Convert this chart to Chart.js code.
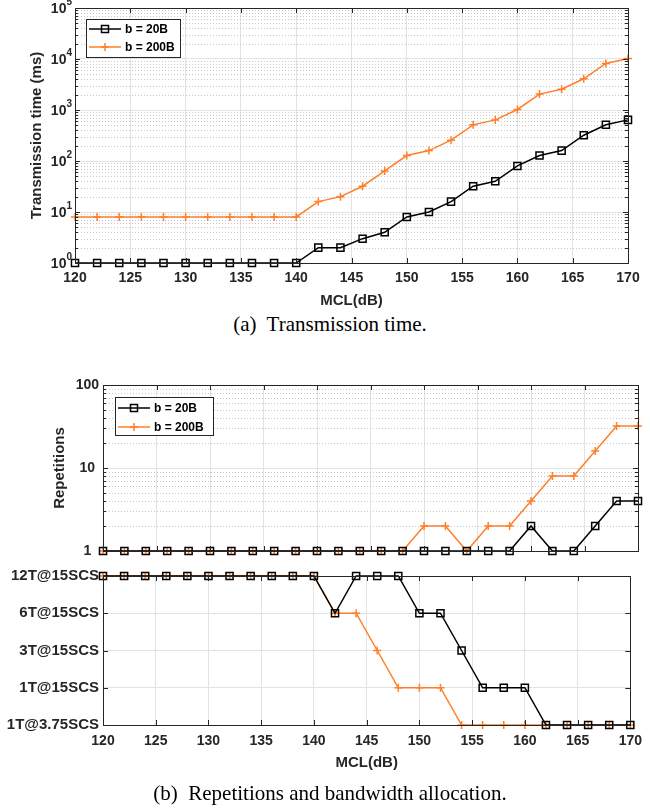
<!DOCTYPE html>
<html>
<head>
<meta charset="utf-8">
<script src="https://cdn.jsdelivr.net/npm/chart.js@4.4.0/dist/chart.umd.min.js"></script>
<style>
  body { margin: 0; background: #fff; width: 650px; height: 811px; position: relative; overflow: hidden; }
  canvas { position: absolute; left: 0; }
  .cap { position: absolute; left: 0; width: 660px; text-align: center; font-family: "Liberation Serif", serif; font-size: 21px; line-height: 24px; color: #000; white-space: pre; }
</style>
</head>
<body>
<canvas id="c1" width="650" height="310" style="top:0px"></canvas>
<div class="cap" style="top:312px">(a)  Transmission time.</div>
<canvas id="c2" width="650" height="194" style="top:370px"></canvas>
<canvas id="c3" width="650" height="215" style="top:560px"></canvas>
<div class="cap" style="top:781px">(b)  Repetitions and bandwidth allocation.</div>
<script>
// -- DATA -- //
const mcl = [120, 122, 124, 126, 128, 130, 132, 134, 136, 138, 140, 142, 144, 146, 148, 150, 152, 154, 156, 158, 160, 162, 164, 166, 168, 170]
const timeB20 = [1, 1, 1, 1, 1, 1, 1, 1, 1, 1, 1, 2, 2, 3, 4, 8, 10, 16, 32, 40, 80, 128, 160, 320, 512, 640]
const timeB200 = [8, 8, 8, 8, 8, 8, 8, 8, 8, 8, 8, 16, 20, 32, 64, 128, 160, 256, 512, 640, 1024, 2048, 2560, 4096, 8192, 10240]
const repB20 = [1, 1, 1, 1, 1, 1, 1, 1, 1, 1, 1, 1, 1, 1, 1, 1, 1, 1, 1, 1, 2, 1, 1, 2, 4, 4]
const repB200 = [1, 1, 1, 1, 1, 1, 1, 1, 1, 1, 1, 1, 1, 1, 1, 2, 2, 1, 2, 2, 4, 8, 8, 16, 32, 32]
const allocLabels = ['1T@3.75SCS', '1T@15SCS', '3T@15SCS', '6T@15SCS', '12T@15SCS']
const allocB20 = [4, 4, 4, 4, 4, 4, 4, 4, 4, 4, 4, 3, 4, 4, 4, 3, 3, 2, 1, 1, 1, 0, 0, 0, 0, 0]
const allocB200 = [4, 4, 4, 4, 4, 4, 4, 4, 4, 4, 4, 3, 3, 2, 1, 1, 1, 0, 0, 0, 0, 0, 0, 0, 0, 0]
const timeTicks = [1, 10, 100, 1000, 10000, 100000]
const repTicks = [1, 10, 100]
const seriesNames = ['b = 20B', 'b = 200B']

const BLACK = '#000000'
const ORANGE = '#ff7f2a'
const AXIS = '#262626'
const FONT = '"Liberation Sans", Arial, sans-serif'

// minor values for a log axis (2..9 per decade)
function logMinors(lo, hi) {
  const out = []
  for (let d = lo; d < hi; d *= 10) for (let k = 2; k <= 9; k++) out.push(d * k)
  return out
}

const pts = (ys) => mcl.map((x, i) => ({ x: x, y: ys[i] }))

function makeSets(a, b) {
  return [
    { label: seriesNames[0], data: pts(a), borderColor: BLACK, backgroundColor: 'rgba(0,0,0,0)', borderWidth: 1.5,
      pointStyle: 'rect', pointRadius: 5, pointBorderWidth: 1.5, pointBorderColor: BLACK, tension: 0, clip: false },
    { label: seriesNames[1], data: pts(b), borderColor: ORANGE, backgroundColor: ORANGE, borderWidth: 1.5,
      pointStyle: 'cross', pointRadius: 4, pointBorderWidth: 1.5, pointBorderColor: ORANGE, tension: 0, clip: false }
  ]
}

// matlab-like box, inward ticks, dotted minor grid, inset legend
const matlabBox = {
  id: 'matlabBox',
  beforeDatasetsDraw(chart, args, o) {
    const { ctx, chartArea: a } = chart
    const y = chart.scales.y
    if (o.minor) {
      ctx.save()
      ctx.strokeStyle = '#c8c8c8'
      ctx.lineWidth = 1
      ctx.setLineDash([1, 2])
      o.minor.forEach(v => {
        const py = Math.round(y.getPixelForValue(v)) + 0.5
        ctx.beginPath(); ctx.moveTo(a.left, py); ctx.lineTo(a.right, py); ctx.stroke()
      })
      ctx.restore()
    }
  },
  afterDatasetsDraw(chart, args, o) {
    const { ctx, chartArea: a } = chart
    const x = chart.scales.x, y = chart.scales.y
    ctx.save()
    ctx.strokeStyle = AXIS
    ctx.lineWidth = 1
    ctx.beginPath()
    x.ticks.forEach(t => {
      const px = Math.round(x.getPixelForValue(t.value)) + 0.5
      ctx.moveTo(px, a.bottom); ctx.lineTo(px, a.bottom - 5)
      ctx.moveTo(px, a.top); ctx.lineTo(px, a.top + 5)
    })
    y.ticks.forEach(t => {
      const py = Math.round(y.getPixelForValue(t.value)) + 0.5
      ctx.moveTo(a.left, py); ctx.lineTo(a.left + 5, py)
      ctx.moveTo(a.right, py); ctx.lineTo(a.right - 5, py)
    })
    ;(o.minor || []).forEach(v => {
      const py = Math.round(y.getPixelForValue(v)) + 0.5
      ctx.moveTo(a.left, py); ctx.lineTo(a.left + 3, py)
      ctx.moveTo(a.right, py); ctx.lineTo(a.right - 3, py)
    })
    ctx.stroke()
    ctx.strokeRect(Math.round(a.left) + 0.5, Math.round(a.top) + 0.5, Math.round(a.right - a.left), Math.round(a.bottom - a.top))

    // power-of-ten labels
    if (o.powLabels) {
      ctx.fillStyle = AXIS
      ctx.textBaseline = 'middle'
      y.ticks.forEach(t => {
        const py = y.getPixelForValue(t.value)
        const e = String(Math.round(Math.log10(t.value)))
        ctx.font = 'bold 10px ' + FONT
        ctx.textAlign = 'right'
        ctx.fillText(e, a.left - 3, py - 6)
        const ew = ctx.measureText(e).width
        ctx.font = 'bold 14px ' + FONT
        ctx.fillText('10', a.left - 3 - ew, py + 1)
      })
    }

    // legend
    if (o.legend) {
      const L = o.legend
      ctx.fillStyle = '#fff'
      ctx.fillRect(L.x, L.y, L.w, L.h)
      ctx.strokeStyle = AXIS
      ctx.strokeRect(L.x + 0.5, L.y + 0.5, L.w, L.h)
      chart.data.datasets.forEach((ds, i) => {
        const ry = L.y + L.first + i * L.row
        ctx.strokeStyle = ds.borderColor
        ctx.lineWidth = 1.5
        ctx.beginPath(); ctx.moveTo(L.x + 3, ry); ctx.lineTo(L.x + 35, ry); ctx.stroke()
        const mx = L.x + 19
        ctx.beginPath()
        if (ds.pointStyle === 'rect') {
          ctx.strokeRect(mx - 3.5, ry - 3.5, 7, 7)
        } else {
          ctx.moveTo(mx - 4, ry); ctx.lineTo(mx + 4, ry)
          ctx.moveTo(mx, ry - 4); ctx.lineTo(mx, ry + 4)
          ctx.stroke()
        }
        ctx.fillStyle = '#000'
        ctx.font = 'bold 12px ' + FONT
        ctx.textAlign = 'left'
        ctx.textBaseline = 'middle'
        ctx.fillText(ds.label, L.x + 39, ry + 1)
      })
    }
    ctx.restore()
  }
}

function xAxis(opts) {
  return Object.assign({
    type: 'linear', min: 120, max: 170,
    border: { display: false },
    grid: { color: '#e2e2e2', lineWidth: 1, drawTicks: false },
    ticks: { stepSize: 5, color: AXIS, font: { family: FONT, size: 14, weight: 'bold' }, padding: 7, maxRotation: 0 }
  }, opts)
}

// -- CHART (a) -- //
new Chart(document.getElementById('c1'), {
  type: 'line',
  data: { datasets: makeSets(timeB20, timeB200) },
  options: {
    responsive: false, animation: false,
    layout: { padding: { left: 0, right: 22, top: 8, bottom: 0 } },
    plugins: {
      legend: { display: false }, tooltip: { enabled: false },
      matlabBox: { minor: logMinors(1, 100000), powLabels: true,
        legend: { x: 86, y: 19, w: 94, h: 38, first: 10, row: 18 } }
    },
    scales: {
      x: xAxis({
        afterFit: s => { s.height = 47 },
        title: { display: true, text: 'MCL(dB)', color: AXIS, font: { family: FONT, size: 15, weight: 'bold' }, padding: { top: 0, bottom: 0 } }
      }),
      y: {
        type: 'logarithmic', min: 1, max: 100000,
        afterBuildTicks: s => { s.ticks = timeTicks.map(v => ({ value: v })) },
        afterFit: s => { s.width = 75 },
        border: { display: false },
        grid: { color: '#e2e2e2', lineWidth: 1, drawTicks: false },
        ticks: { display: false },
        title: { display: true, text: 'Transmission time (ms)', color: AXIS, font: { family: FONT, size: 15, weight: 'bold' }, padding: { top: 28, bottom: 0 } }
      }
    }
  },
  plugins: [matlabBox]
})

// -- CHART (b) upper: repetitions -- //
new Chart(document.getElementById('c2'), {
  type: 'line',
  data: { datasets: makeSets(repB20, repB200) },
  options: {
    responsive: false, animation: false,
    layout: { padding: { left: 0, right: 12, top: 15, bottom: 0 } },
    plugins: {
      legend: { display: false }, tooltip: { enabled: false },
      matlabBox: { minor: logMinors(1, 100),
        legend: { x: 115, y: 27, w: 98, h: 38, first: 11, row: 19 } }
    },
    scales: {
      x: xAxis({ afterFit: s => { s.height = 13 }, ticks: { display: false, stepSize: 5 } }),
      y: {
        type: 'logarithmic', min: 1, max: 100,
        afterBuildTicks: s => { s.ticks = repTicks.map(v => ({ value: v })) },
        afterFit: s => { s.width = 103 },
        border: { display: false },
        grid: { color: '#e2e2e2', lineWidth: 1, drawTicks: false },
        ticks: { color: AXIS, font: { family: FONT, size: 14, weight: 'bold' }, padding: 4, crossAlign: 'center',
          callback: v => String(v) },
        title: { display: true, text: 'Repetitions', color: AXIS, font: { family: FONT, size: 15, weight: 'bold' }, padding: { top: 51, bottom: 0 } }
      }
    }
  },
  plugins: [matlabBox]
})

// -- CHART (b) lower: bandwidth allocation -- //
new Chart(document.getElementById('c3'), {
  type: 'line',
  data: { datasets: makeSets(allocB20, allocB200) },
  options: {
    responsive: false, animation: false,
    layout: { padding: { left: 0, right: 12, top: 16, bottom: 0 } },
    plugins: {
      legend: { display: false }, tooltip: { enabled: false },
      matlabBox: {}
    },
    scales: {
      x: xAxis({
        afterFit: s => { s.height = 50 },
        ticks: { stepSize: 5, color: AXIS, font: { family: FONT, size: 14, weight: 'bold' }, padding: 8, maxRotation: 0 },
        title: { display: true, text: 'MCL(dB)', color: AXIS, font: { family: FONT, size: 15, weight: 'bold' }, padding: { top: 0, bottom: 3 } }
      }),
      y: {
        type: 'linear', min: 0, max: allocLabels.length - 1,
        afterFit: s => { s.width = 103 },
        border: { display: false },
        grid: { color: '#e2e2e2', lineWidth: 1, drawTicks: false },
        ticks: { stepSize: 1, color: AXIS, font: { family: FONT, size: 15, weight: 'bold' }, padding: 4,
          callback: v => allocLabels[v] }
      }
    }
  },
  plugins: [matlabBox]
})
</script>
</body>
</html>
